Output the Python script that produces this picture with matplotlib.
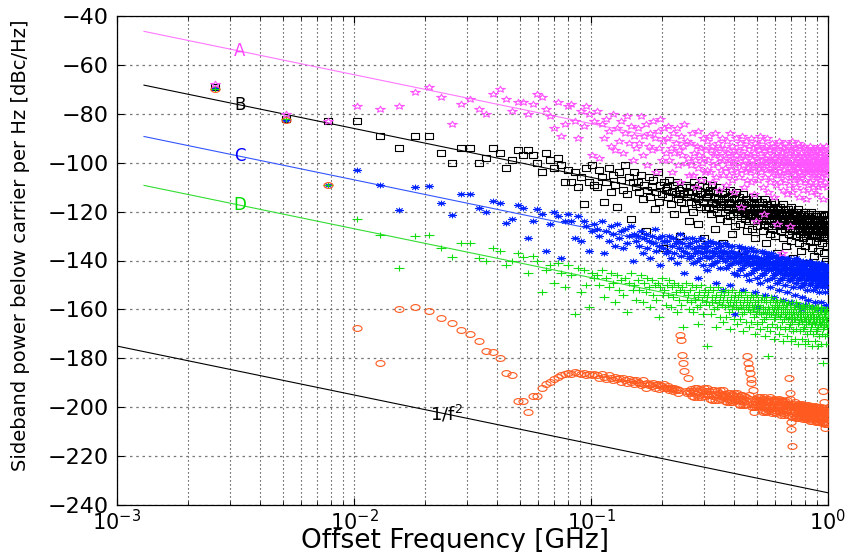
import numpy as np
import matplotlib
matplotlib.use("Agg")
import matplotlib.pyplot as plt
from matplotlib.path import Path

# Harmonic spacing of the comb [GHz]; sample n sits at n * F0
F0 = 2.583e-3

# Sideband levels per harmonic [dBc/Hz]
sb_A = [
    -68, -80, -83, -77, -78, -77, -71, -69, -73, -84, -76, -74, -78, -80, -72, -70, -74, -79, -75, -75,
    -80, -76, -72, -73, -78, -81, -86, -75, -89, -84, -77, -76, -83, -90, -79, -85, -77, -80, -97, -83,
    -79, -98, -84, -90, -82, -87, -93, -80, -95, -86, -91, -83, -96, -88, -81, -92, -85, -99, -89, -94,
    -86, -92, -81, -97, -89, -84, -101, -93, -88, -95, -83, -90, -104, -87, -94, -82, -99, -91, -86, -96,
    -90, -85, -99, -94, -104, -88, -96, -92, -86, -101, -95, -108, -89, -97, -93, -84, -100, -91, -98, -105,
    -92, -101, -88, -105, -96, -99, -110, -93, -87, -102, -97, -94, -107, -100, -90, -98, -104, -95, -91, -103,
    -99, -89, -104, -95, -108, -93, -101, -97, -88, -106, -96, -100, -92, -111, -98, -94, -103, -90, -99, -105,
    -94, -102, -97, -109, -91, -100, -96, -105, -88, -99, -103, -93, -107, -98, -95, -112, -101, -90, -97, -104,
    -100, -95, -106, -92, -98, -118, -103, -89, -101, -97, -110, -94, -99, -104, -91, -107, -96, -102, -93, -100,
    -97, -103, -90, -108, -99, -94, -101, -113, -96, -92, -105, -100, -124, -98, -93, -102, -107, -95, -89, -101,
    -104, -96, -99, -91, -110, -101, -94, -121, -98, -106, -93, -100, -103, -90, -97, -112, -99, -95, -102, -108,
    -95, -101, -106, -92, -99, -104, -97, -114, -100, -93, -103, -98, -109, -96, -125, -101, -94, -105, -99, -91,
    -102, -97, -108, -93, -100, -105, -96, -137, -99, -111, -94, -103, -98, -92, -107, -101, -95, -104, -100, -113,
    -98, -104, -93, -101, -109, -96, -100, -126, -95, -106, -99, -91, -103, -112, -97, -101, -94, -107, -100, -105,
    -103, -96, -100, -110, -94, -102, -98, -106, -92, -101, -114, -97, -104, -99, -93, -108, -100, -96, -105, -101,
    -99, -105, -94, -102, -111, -97, -100, -93, -107, -103, -98, -115, -101, -95, -104, -100, -96, -109, -102, -97,
    -104, -98, -101, -93, -108, -100, -96, -103, -112, -99, -95, -106, -101, -97, -94, -110, -102, -99, -105, -100,
    -97, -103, -100, -108, -95, -101, -113, -99, -94, -105, -102, -98, -110, -96, -104, -100, -93, -107, -101, -99,
    -102, -96, -106, -100, -94, -109, -101, -98, -104, -115, -97, -103, -100, -95, -108, -102, -99, -93, -105, -101,
    -98, -104, -100, -110, -96, -102, -99,
]

sb_B = [
    -69, -82, -83, -83, -89, -94, -89, -89, -96, -100, -94, -94, -100, -98, -94, -96, -102, -99, -95, -97,
    -95, -97, -100, -104, -96, -99, -102, -98, -101, -108, -103, -108, -104, -110, -106, -117, -102, -108, -101, -109,
    -110, -103, -106, -116, -108, -102, -112, -105, -109, -118, -104, -107, -111, -101, -113, -106, -123, -108, -104, -110,
    -108, -112, -105, -115, -109, -128, -111, -106, -114, -110, -107, -119, -112, -104, -116, -109, -113, -135, -108, -111,
    -110, -114, -107, -117, -112, -109, -121, -113, -108, -115, -111, -130, -116, -110, -113, -119, -109, -114, -112, -124,
    -110, -116, -112, -120, -108, -114, -117, -111, -125, -115, -109, -118, -113, -107, -116, -131, -112, -119, -114, -110,
    -113, -118, -111, -121, -116, -109, -119, -114, -127, -117, -112, -120, -115, -110, -123, -116, -118, -113, -133, -117,
    -115, -120, -112, -118, -124, -114, -119, -116, -111, -122, -117, -129, -113, -121, -118, -115, -126, -119, -112, -120,
    -117, -121, -114, -119, -125, -116, -122, -118, -113, -136, -120, -117, -123, -115, -119, -128, -121, -116, -124, -118,
    -118, -122, -116, -121, -127, -114, -120, -124, -117, -119, -131, -122, -115, -120, -126, -118, -123, -116, -121, -140,
    -119, -123, -116, -121, -128, -118, -122, -125, -115, -120, -124, -133, -119, -122, -117, -126, -121, -118, -123, -129,
    -120, -124, -117, -122, -127, -119, -121, -125, -116, -123, -130, -120, -122, -126, -118, -124, -137, -121, -119, -125,
    -121, -125, -118, -123, -128, -120, -122, -126, -117, -124, -131, -121, -123, -127, -119, -125, -122, -134, -120, -126,
    -122, -126, -119, -124, -129, -121, -123, -127, -118, -125, -132, -122, -124, -128, -120, -139, -123, -126, -121, -125,
    -122, -127, -120, -125, -130, -121, -124, -128, -119, -126, -133, -123, -125, -129, -121, -126, -124, -136, -122, -127,
    -123, -127, -121, -126, -131, -122, -125, -129, -120, -127, -134, -124, -126, -130, -122, -128, -125, -141, -123, -127,
    -124, -128, -121, -126, -132, -123, -125, -129, -120, -127, -135, -124, -126, -130, -122, -128, -125, -138, -123, -128,
    -124, -129, -122, -127, -132, -123, -126, -130, -121, -128, -136, -125, -127, -131, -122, -129, -126, -144, -124, -128,
    -125, -129, -122, -127, -133, -124, -126, -130, -121, -128, -137, -125, -127, -131, -123, -129, -126, -140, -124, -128,
    -125, -130, -123, -127, -134, -124, -128,
]

sb_C = [
    -69.5, -82.5, -109, -103, -109, -119.5, -110, -109.5, -116.5, -121.5, -113, -113, -118.5, -120, -115.5, -116.5, -124.5, -123, -117.5, -118.5,
    -131, -124, -119, -121, -136, -125, -120, -122, -139, -124, -121, -124, -131, -122, -132, -124, -126, -136, -128, -125,
    -127, -130, -124, -137, -128, -132, -126, -129, -134, -125, -131, -128, -135, -127, -133, -130, -126, -140, -129, -132,
    -130, -134, -128, -137, -131, -129, -135, -132, -139, -130, -133, -127, -136, -131, -134, -142, -130, -135, -132, -137,
    -132, -136, -130, -139, -134, -131, -137, -133, -141, -132, -135, -129, -138, -133, -136, -145, -131, -137, -134, -139,
    -133, -138, -131, -141, -135, -137, -132, -140, -136, -147, -134, -139, -131, -137, -142, -135, -133, -138, -136, -144,
    -134, -139, -132, -142, -136, -138, -133, -141, -137, -149, -135, -140, -133, -138, -143, -136, -134, -139, -137, -152,
    -136, -140, -133, -143, -137, -139, -134, -142, -138, -150, -136, -141, -134, -139, -145, -137, -162, -140, -138, -146,
    -137, -141, -134, -144, -138, -140, -135, -143, -139, -152, -137, -142, -135, -140, -146, -138, -136, -141, -139, -148,
    -138, -142, -135, -145, -139, -141, -136, -144, -140, -153, -138, -143, -136, -141, -147, -139, -159, -142, -140, -149,
    -139, -143, -136, -146, -140, -142, -137, -145, -141, -154, -139, -144, -137, -142, -148, -140, -138, -143, -141, -151,
    -139, -144, -137, -147, -141, -143, -138, -146, -142, -155, -140, -145, -138, -143, -149, -141, -139, -144, -142, -152,
    -140, -145, -138, -148, -142, -144, -139, -147, -143, -156, -141, -146, -139, -144, -150, -142, -140, -145, -143, -153,
    -141, -146, -139, -148, -143, -145, -140, -148, -144, -157, -142, -147, -140, -145, -151, -143, -141, -146, -144, -154,
    -141, -146, -139, -149, -143, -145, -140, -148, -144, -158, -142, -147, -140, -145, -151, -143, -160, -146, -144, -155,
    -142, -147, -140, -150, -144, -146, -141, -149, -145, -158, -143, -148, -141, -146, -152, -144, -142, -147, -145, -156,
    -142, -147, -140, -150, -144, -146, -141, -149, -145, -159, -143, -148, -141, -146, -152, -144, -142, -147, -145, -157,
    -143, -148, -141, -151, -145, -147, -142, -150, -146, -160, -144, -149, -142, -147, -153, -145, -143, -148, -146, -157,
    -143, -148, -141, -151, -145, -147, -142, -150, -146, -160, -144, -149, -142, -147, -153, -145, -143, -148, -146, -158,
    -144, -149, -142, -151, -146, -148, -143,
]

sb_D = [
    -70, -82, -109, -123, -129.5, -143, -130, -129.5, -135, -138.5, -133, -133, -139, -140, -135, -136, -142, -140, -137, -138.5,
    -145, -138, -140, -153, -144, -142, -149, -141, -145, -151, -142, -146, -162, -143, -153, -144, -150, -159, -145, -147,
    -146, -150, -144, -155, -147, -151, -145, -149, -157, -146, -152, -148, -154, -147, -161, -149, -145, -152, -150, -156,
    -148, -152, -146, -157, -149, -153, -147, -151, -159, -148, -154, -150, -156, -149, -163, -151, -147, -154, -152, -158,
    -150, -154, -148, -159, -151, -155, -149, -153, -161, -150, -156, -152, -158, -151, -167, -153, -149, -156, -154, -160,
    -152, -157, -150, -161, -154, -156, -151, -159, -155, -166, -153, -158, -150, -156, -162, -154, -152, -157, -155, -175,
    -153, -158, -151, -162, -155, -157, -152, -160, -156, -167, -154, -159, -151, -157, -163, -155, -153, -158, -156, -165,
    -154, -159, -152, -163, -156, -158, -153, -161, -157, -168, -155, -160, -152, -158, -164, -156, -154, -159, -157, -166,
    -155, -160, -153, -164, -157, -159, -154, -162, -158, -169, -156, -161, -153, -159, -165, -157, -155, -160, -158, -167,
    -156, -161, -154, -165, -158, -160, -155, -163, -159, -170, -157, -162, -154, -160, -166, -158, -156, -161, -159, -168,
    -156, -162, -155, -165, -159, -161, -156, -164, -160, -171, -157, -163, -155, -161, -167, -159, -179, -162, -160, -169,
    -157, -162, -155, -166, -159, -161, -156, -164, -160, -172, -158, -163, -156, -161, -167, -159, -157, -162, -160, -170,
    -158, -163, -156, -167, -160, -162, -157, -165, -161, -173, -159, -164, -157, -162, -168, -160, -158, -163, -161, -171,
    -158, -164, -157, -167, -161, -163, -158, -166, -162, -173, -160, -165, -157, -163, -169, -161, -159, -164, -162, -172,
    -159, -164, -157, -168, -161, -163, -158, -166, -162, -174, -160, -165, -158, -163, -169, -161, -159, -164, -162, -172,
    -159, -165, -158, -168, -162, -164, -159, -167, -163, -174, -161, -166, -158, -164, -170, -162, -160, -165, -163, -173,
    -160, -165, -158, -169, -162, -164, -159, -167, -163, -175, -161, -166, -159, -164, -170, -162, -160, -165, -163, -173,
    -160, -166, -159, -169, -163, -165, -160, -168, -164, -175, -162, -167, -159, -165, -171, -163, -161, -166, -164, -174,
    -161, -166, -159, -170, -163, -165, -160, -168, -164, -182, -162, -167, -160, -165, -171, -163, -161, -166, -164, -174,
    -161, -167, -160, -170, -164, -166, -162,
]

sb_E = [
    -70, -82.5, -109, -167.5, -182, -160, -159, -160.5, -163.5, -165.5, -168.5, -170, -173, -177, -177.5, -180, -186, -187, -197.5, -197.5,
    -202, -195.5, -195.5, -192, -190.5, -189.5, -188.5, -187.5, -187, -186.5, -186, -186.5, -185.5, -186, -186.5, -186, -187, -186.5, -187, -186.5,
    -187, -188, -186.5, -187.5, -188.5, -187, -188, -189, -187.5, -188.5, -188, -189.5, -188, -189, -190, -188.5, -189.5, -189, -190.5, -189,
    -189.5, -190, -191, -189, -190.5, -192, -190, -191, -190.5, -191.5, -190, -192, -191, -190.5, -192.5, -191, -191.5, -192, -190.5, -192,
    -192, -191.5, -193, -192, -192.5, -193.5, -192, -193, -192.5, -194, -193, -170.5, -172.5, -178.5, -182, -185, -193.5, -194, -188, -193.5,
    -194, -192.5, -195.5, -193.5, -196, -192, -194.5, -192, -196, -193.5, -195, -192.5, -196, -193, -194.5, -192, -195.5, -193.5, -194.5, -192,
    -195, -193.5, -196.5, -194.5, -197, -193, -195.5, -193, -197, -194.5, -196, -193.5, -197, -194, -195.5, -193, -196.5, -194.5, -195.5, -193,
    -196, -194.5, -197.5, -195.5, -198, -194, -196.5, -194, -198, -195.5, -197, -194.5, -198, -195, -196.5, -194, -197.5, -195.5, -196.5, -194,
    -197, -195.5, -198.5, -196.5, -199, -195, -197.5, -195, -199, -196.5, -198, -195.5, -199, -196, -197.5, -179, -198.5, -182, -184, -195,
    -186, -196.5, -188.5, -190, -200, -193, -198.5, -202, -200, -197.5, -199, -196.5, -200, -197, -198.5, -196, -199.5, -197.5, -198.5, -196,
    -199, -197, -201, -198, -202, -196.5, -200, -196, -201.5, -198.5, -200.5, -197, -202, -197.5, -199.5, -196.5, -201, -198, -200, -196,
    -199.5, -197.5, -201.5, -198.5, -202.5, -197, -200.5, -196.5, -202, -199, -201, -197.5, -202.5, -198, -200, -197, -201.5, -198.5, -200.5, -196.5,
    -200, -198, -202, -199, -203, -197.5, -201, -197, -202.5, -199.5, -201.5, -198, -203, -198.5, -200.5, -197.5, -202, -199, -201, -197,
    -201, -199, -203, -200, -188, -198.5, -194, -196.5, -203.5, -206, -209, -216, -204, -199.5, -201.5, -198.5, -203, -200, -202, -198,
    -201.5, -199.5, -203.5, -200.5, -204.5, -199, -202.5, -198.5, -204, -201, -203, -199.5, -204.5, -200, -202, -199, -203.5, -200.5, -202.5, -198.5,
    -202, -200, -204, -201, -205, -199.5, -203, -199, -204.5, -201.5, -203.5, -200, -205, -200.5, -202.5, -199.5, -204, -201, -203, -199,
    -202.5, -200.5, -204.5, -201.5, -205.5, -200, -203.5, -199.5, -205, -202, -204, -200.5, -205.5, -201, -203, -200, -204.5, -201.5, -203.5, -199.5,
    -203, -201, -205, -202, -206, -200.5, -204, -200, -205.5, -202.5, -204.5, -201, -206, -201.5, -203.5, -200.5, -205, -202, -204, -200,
    -203.5, -201.5, -205.5, -202.5, -206.5, -201, -204.5, -200.5, -206, -193.5, -205, -198, -206.5, -202, -207, -201, -208.5, -202.5, -204.5, -200.5,
    -204, -202, -206, -203, -207, -201.5, -205,
]

# Reference slopes (-20 dB/decade), level at 1 GHz [dBc/Hz]
ref_levels = {"A": -104, "B": -126, "C": -147, "D": -167}
ref_colors = {"A": "#ff77ff", "B": "#000000", "C": "#3355ff", "D": "#33dd33"}
label_colors = {"A": "#ff44ff", "B": "#000000", "C": "#0000ff", "D": "#00dd00"}
ref_span = (1.3e-3, 1.0)
label_freq = 3.3e-3
inv_f2_level = -235
inv_f2_span = (1e-3, 1.0)
inv_f2_label_freq = 0.0245


def harmonics(vals):
    return np.arange(1, len(vals) + 1) * F0


def slope_line(level, f):
    f = np.asarray(f, dtype=float)
    return level - 20 * np.log10(f)


# Marker shapes, drawn wider than tall
SX = 1.55


def star_marker():
    ang = np.deg2rad(90 + 36 * np.arange(10))
    r = np.where(np.arange(10) % 2 == 0, 1.0, 0.4)
    pts = [(SX * ri * np.cos(a), ri * np.sin(a)) for ri, a in zip(r, ang)]
    pts.append(pts[0])
    return Path(pts, closed=True)


def box_marker():
    return Path([(-SX, -1), (SX, -1), (SX, 1), (-SX, 1), (-SX, -1)], closed=True)


def ring_marker():
    t = np.linspace(0, 2 * np.pi, 33)
    return Path(np.column_stack([SX * np.cos(t), np.sin(t)]), closed=True)


def plus_marker():
    M, L = Path.MOVETO, Path.LINETO
    return Path([(-SX, 0), (SX, 0), (0, -1), (0, 1)], [M, L, M, L])


def asterisk_marker():
    M, L = Path.MOVETO, Path.LINETO
    a, b = 0.72 * SX, 0.72
    return Path([(-SX, 0), (SX, 0), (0, -1), (0, 1), (-a, -b), (a, b), (-a, b), (a, -b)],
                [M, L, M, L, M, L, M, L])


plt.rcParams["font.family"] = ["DejaVu Sans"]
plt.rcParams["mathtext.fontset"] = "dejavusans"

fig = plt.figure(figsize=(8.54, 5.52), dpi=100)
ax = fig.add_axes([117 / 854, 1 - 505 / 552, 711 / 854, 489 / 552])

ax.set_xscale("log")
ax.set_xlim(1e-3, 1.0)
ax.set_ylim(-240, -40)
ax.set_yticks(np.arange(-240, -39, 20))

# Grid: dotted verticals at every decade/sub-decade, dotted horizontals at major y
ax.grid(True, which="both", axis="x", color="#222222", linestyle=(0, (1, 2.6)), linewidth=0.8)
ax.grid(True, which="major", axis="y", color="#777777", linestyle=(0, (2, 3)), linewidth=0.9)
ax.set_axisbelow(True)

# Reference lines and labels
for key, level in ref_levels.items():
    ax.plot(ref_span, slope_line(level, ref_span), color=ref_colors[key], lw=0.8, zorder=2)
    ax.text(label_freq, slope_line(level, label_freq), key, color=label_colors[key],
            fontsize=12, ha="center", va="center", zorder=6)
ax.plot(inv_f2_span, slope_line(inv_f2_level, inv_f2_span), color="black", lw=0.8, zorder=2)
ax.text(inv_f2_label_freq, slope_line(inv_f2_level, inv_f2_label_freq), "1/f$^2$",
        color="black", fontsize=13, ha="center", va="center", zorder=6)

# Measured sidebands
common = dict(linestyle="none", mfc="none", mew=0.8, zorder=3)
ax.plot(harmonics(sb_B), sb_B, marker=box_marker(), ms=6.0, mec="black", **common)
ax.plot(harmonics(sb_C), sb_C, marker=asterisk_marker(), ms=6.5, mec="#0022ff", **common)
ax.plot(harmonics(sb_D), sb_D, marker=plus_marker(), ms=6.5, mec="#11dd11", **common)
ax.plot(harmonics(sb_E), sb_E, marker=ring_marker(), ms=6.5, mec="#ff5a1f", **common)
ax.plot(harmonics(sb_A), sb_A, marker=star_marker(), ms=7.0, mec="#ff55ff", **common)

# Axis styling
ax.tick_params(which="both", direction="in", top=True, right=True)
ax.tick_params(axis="y", labelsize=16, pad=6)
ax.tick_params(axis="x", labelsize=15, pad=3)
ax.tick_params(which="major", length=5, width=0.8)
ax.tick_params(which="minor", length=3, width=0.6)
for sp in ax.spines.values():
    sp.set_linewidth(0.9)

ax.set_xlabel("Offset Frequency [GHz]", fontsize=19)
ax.set_ylabel("Sideband power below carrier per Hz [dBc/Hz]", fontsize=14)
ax.xaxis.set_label_coords(0.475, -0.047)
ax.yaxis.set_label_coords(-0.122, 0.532)

fig.savefig("out.png", dpi=100)
